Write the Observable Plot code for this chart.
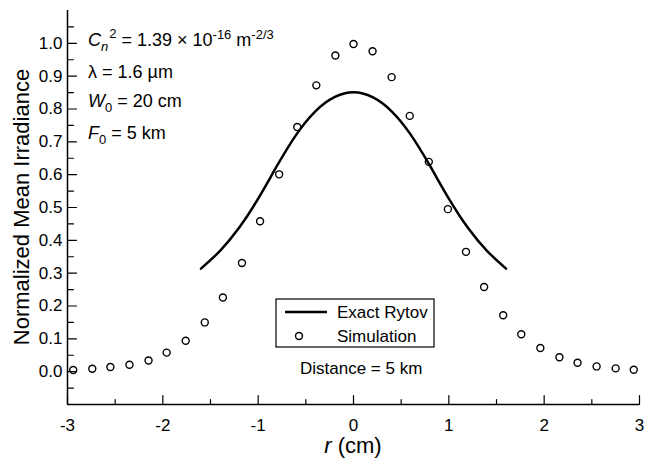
<!DOCTYPE html>
<html><head><meta charset="utf-8">
<script src="https://cdn.jsdelivr.net/npm/d3@7"></script>
<script src="https://cdn.jsdelivr.net/npm/@observablehq/plot@0.6"></script>
<style>
body{margin:0;background:#fff;}
#chart{width:648px;height:460px;}
</style></head><body><div id="chart"></div>
<script>
// Simulation points (r in cm, normalized mean irradiance)
const simR = [-2.94,-2.74,-2.55,-2.35,-2.15,-1.96,-1.76,-1.56,-1.37,-1.17,-0.98,-0.78,-0.59,-0.39,-0.19,0,0.2,0.4,0.59,0.79,0.99,1.18,1.37,1.57,1.76,1.96,2.16,2.35,2.55,2.75,2.94];
const simI = [0.005,0.009,0.014,0.021,0.034,0.058,0.094,0.150,0.226,0.331,0.458,0.601,0.745,0.872,0.963,0.998,0.976,0.897,0.779,0.639,0.495,0.365,0.258,0.172,0.114,0.072,0.044,0.027,0.016,0.010,0.006];
// Exact Rytov curve
const rytovR = [-1.6,-1.4,-1.2,-1.0,-0.8,-0.6,-0.4,-0.2,0,0.2,0.4,0.6,0.8,1.0,1.2,1.4,1.6];
const rytovI = [0.314,0.368,0.438,0.527,0.628,0.722,0.793,0.836,0.851,0.836,0.793,0.722,0.628,0.527,0.438,0.368,0.314];
// Ticks
const xMajor = [-3,-2,-1,0,1,2,3];
const xMinor = [-2.5,-1.5,-0.5,0.5,1.5,2.5];
const yMajor = [0,0.1,0.2,0.3,0.4,0.5,0.6,0.7,0.8,0.9,1.0];
const yMinor = [-0.05,0.05,0.15,0.25,0.35,0.45,0.55,0.65,0.75,0.85,0.95,1.05];
// Texts
const xLabel = ["r", " (cm)"];
const yLabel = "Normalized Mean Irradiance";
const legendLabels = ["Exact Rytov", "Simulation"];
const note = "Distance = 5 km";

const sim = simR.map((r, i) => ({r, v: simI[i]}));
const ry = rytovR.map((r, i) => ({r, v: rytovI[i]}));
const FONT = "'Liberation Sans', Arial, Helvetica, sans-serif";
const tick = (data, horizontal, len) => horizontal
  ? Plot.vector(data, {x: -3, y: d => d, length: len, rotate: 90, anchor: "start", r: 0, stroke: "#000", strokeWidth: 1.2})
  : Plot.vector(data, {x: d => d, y: -0.1, length: len, rotate: 0, anchor: "start", r: 0, stroke: "#000", strokeWidth: 1.2});

const plot = Plot.plot({
  width: 648, height: 460,
  marginLeft: 67, marginRight: 9, marginTop: 10, marginBottom: 56,
  style: {fontFamily: FONT, fontSize: "17px", color: "#000", background: "#fff", overflow: "visible"},
  x: {domain: [-3, 3]},
  y: {domain: [-0.1, 1.1]},
  marks: [
    Plot.axisX(xMajor, {tickSize: 0, tickPadding: 14, tickFormat: d => String(d), label: null, fontSize: 17}),
    Plot.axisY(yMajor, {tickSize: 0, tickPadding: 5, tickFormat: d3.format(".1f"), label: null, fontSize: 17}),
    tick(xMajor, false, 9),
    tick(xMinor, false, 5),
    tick(yMajor, true, 9),
    tick(yMinor, true, 6),
    Plot.ruleY([-0.1], {stroke: "#000", strokeWidth: 1.5}),
    Plot.ruleX([-3], {stroke: "#000", strokeWidth: 1.5}),
    Plot.line(ry, {x: "r", y: "v", curve: "natural", stroke: "#000", strokeWidth: 2.5}),
    Plot.dot(sim, {x: "r", y: "v", r: 3.5, stroke: "#000", strokeWidth: 1.4, fill: "none"})
  ]
});
document.getElementById("chart").appendChild(plot);

const svg = d3.select(plot);
const g = svg.append("g").attr("font-family", FONT).attr("fill", "#000").attr("text-anchor", "start");

// Axis titles
const xt = g.append("text").attr("x", 353).attr("y", 453).attr("text-anchor", "middle").attr("font-size", 22);
xt.append("tspan").attr("font-style", "italic").text(xLabel[0]);
xt.append("tspan").text(xLabel[1]);
g.append("text").attr("transform", "translate(29,207) rotate(-90)").attr("text-anchor", "middle")
  .attr("font-size", 22).text(yLabel);

// Parameter annotations
function rich(x, y, parts) {
  const t = g.append("text").attr("x", x).attr("y", y).attr("font-size", 18);
  parts.forEach(p => {
    const s = t.append("tspan").text(p.t);
    if (p.i) s.attr("font-style", "italic");
    if (p.dy) s.attr("dy", p.dy);
    if (p.dx) s.attr("dx", p.dx);
    if (p.fs) s.attr("font-size", p.fs);
  });
}
rich(88, 46, [
  {t: "C", i: 1},
  {t: "n", i: 1, fs: 13, dy: 5},
  {t: "2", fs: 13, dy: -13, dx: 1},
  {t: " = 1.39 \u00d7 10", dy: 8},
  {t: "-16", fs: 13, dy: -7},
  {t: " m", dy: 7},
  {t: "-2/3", fs: 13, dy: -7}
]);
rich(88, 78, [{t: "\u03bb = 1.6 \u00b5m"}]);
rich(88, 107, [{t: "W", i: 1}, {t: "0", fs: 13, dy: 5}, {t: " = 20 cm", dy: -5}]);
rich(88, 139, [{t: "F", i: 1}, {t: "0", fs: 13, dy: 5}, {t: " = 5 km", dy: -5}]);

// Legend
g.append("rect").attr("x", 276).attr("y", 299).attr("width", 158).attr("height", 48)
  .attr("fill", "#fff").attr("stroke", "#000").attr("stroke-width", 1.2);
g.append("line").attr("x1", 285).attr("x2", 327).attr("y1", 312).attr("y2", 312.01)
  .attr("stroke", "#000").attr("stroke-width", 2.5);
g.append("circle").attr("cx", 299).attr("cy", 336).attr("r", 3.5)
  .attr("fill", "none").attr("stroke", "#000").attr("stroke-width", 1.4);
g.append("text").attr("x", 337).attr("y", 318).attr("font-size", 17).text(legendLabels[0]);
g.append("text").attr("x", 337).attr("y", 342).attr("font-size", 17).text(legendLabels[1]);
g.append("text").attr("x", 300).attr("y", 374).attr("font-size", 17).text(note);
</script>
</body></html>
